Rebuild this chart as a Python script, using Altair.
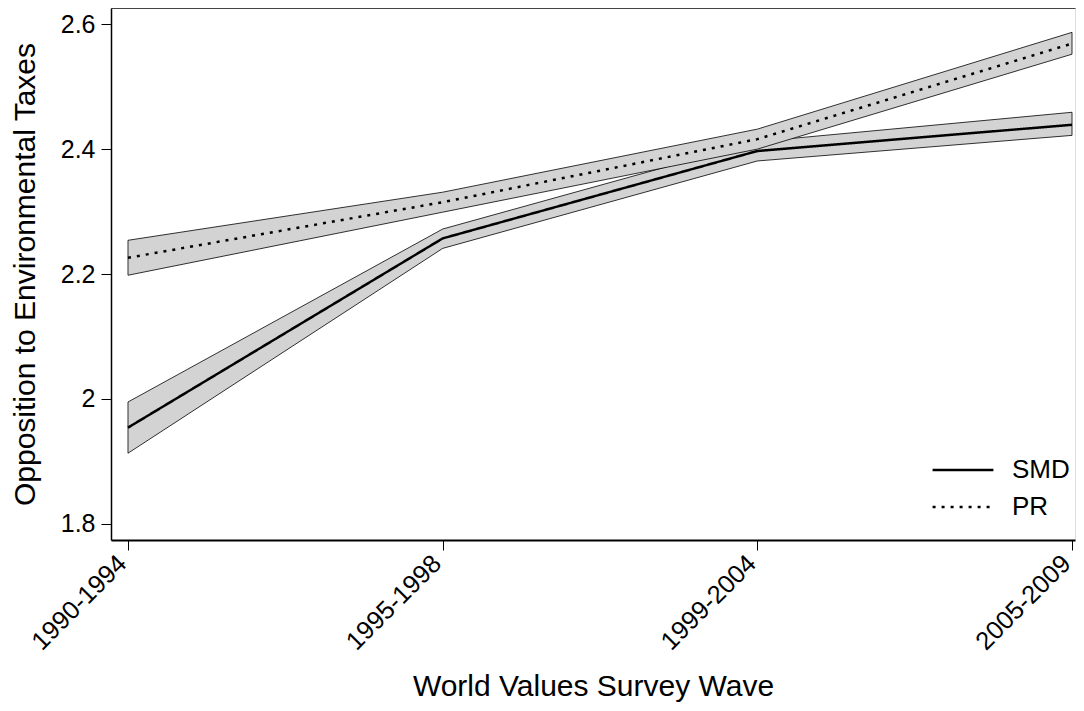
import json
import altair as alt
import pandas as pd

waves = ["1990-1994", "1995-1998", "1999-2004", "2005-2009"]
series_names = ["SMD", "PR"]
smd_mean = [1.954, 2.257, 2.397, 2.439]
smd_lo = [1.913, 2.241, 2.381, 2.422]
smd_hi = [1.995, 2.272, 2.412, 2.459]
pr_mean = [2.226, 2.315, 2.416, 2.569]
pr_lo = [2.198, 2.299, 2.400, 2.552]
pr_hi = [2.254, 2.331, 2.432, 2.587]
y_ticks = [1.8, 2.0, 2.2, 2.4, 2.6]

rows = []
for name, m, lo, hi in [("SMD", smd_mean, smd_lo, smd_hi), ("PR", pr_mean, pr_lo, pr_hi)]:
    for i, w in enumerate(waves):
        rows.append({"idx": i, "wave": w, "series": name, "mean": m[i], "lo": lo[i], "hi": hi[i]})
df = pd.DataFrame(rows)

FONT = "Liberation Sans"
label_expr = json.dumps(waves) + "[datum.value]"
xscale = alt.Scale(domain=[-0.054, 3.0095], nice=False, zero=False)
yscale = alt.Scale(domain=[1.774, 2.626], nice=False, zero=False)

yaxis = alt.Axis(values=y_ticks, format="~g", title="Opposition to Environmental Taxes",
                 grid=False, tickSize=10, labelPadding=6, titlePadding=20,
                 labelFontSize=25, titleFontSize=30, titleFontWeight="normal",
                 domainColor="black", tickColor="black", labelColor="black", titleColor="black",
                 domainWidth=1.5, tickWidth=1, labelFont=FONT, titleFont=FONT)

bands = alt.Chart(df).mark_area(fill="#d3d3d3", stroke="black", strokeWidth=0.8, opacity=1).encode(
    x=alt.X("idx:Q", scale=xscale,
            axis=alt.Axis(values=[0, 1, 2, 3], labelExpr=label_expr, labelAngle=-45,
                          labelAlign="right", labelBaseline="middle", labelPadding=9,
                          labelOffset=-6,
                          tickSize=10, grid=False, title="World Values Survey Wave",
                          titlePadding=17, labelFontSize=25.5, titleFontSize=30,
                          titleFontWeight="normal", domainColor="black", tickColor="black",
                          labelColor="black", titleColor="black", domainWidth=1.8,
                          tickWidth=1, labelFont=FONT, titleFont=FONT)),
    y=alt.Y("lo:Q", scale=yscale, axis=yaxis),
    y2="hi:Q",
    detail="series:N",
)

lines = alt.Chart(df).mark_line(color="black", strokeWidth=2.5).encode(
    x=alt.X("idx:Q", scale=xscale,
            axis=alt.Axis(orient="top", ticks=False, labels=False, title=None, grid=False,
                          domainColor="#444444", domainWidth=1.2)),
    y=alt.Y("mean:Q", scale=yscale, axis=yaxis),
    strokeDash=alt.StrokeDash(
        "series:N",
        scale=alt.Scale(domain=series_names, range=[[1, 0], [3, 6]]),
        legend=alt.Legend(title=None, orient="none", legendX=820, legendY=451,
                          symbolType="stroke", symbolSize=3700, symbolStrokeWidth=2.5,
                          symbolStrokeColor="black", clipHeight=22, rowPadding=11,
                          labelFontSize=26, labelFont=FONT, labelColor="black",
                          labelOffset=17, padding=0),
    ),
)

chart = alt.layer(bands, lines).resolve_axis(x="independent").properties(
    width=964, height=532,
    autosize=alt.AutoSizeParams(type="none"),
    padding={"left": 103, "top": 0, "right": 1, "bottom": 163},
).configure_view(stroke=None).configure(background="white")

chart.save("out.html", embed_options={"renderer": "svg", "actions": False})
